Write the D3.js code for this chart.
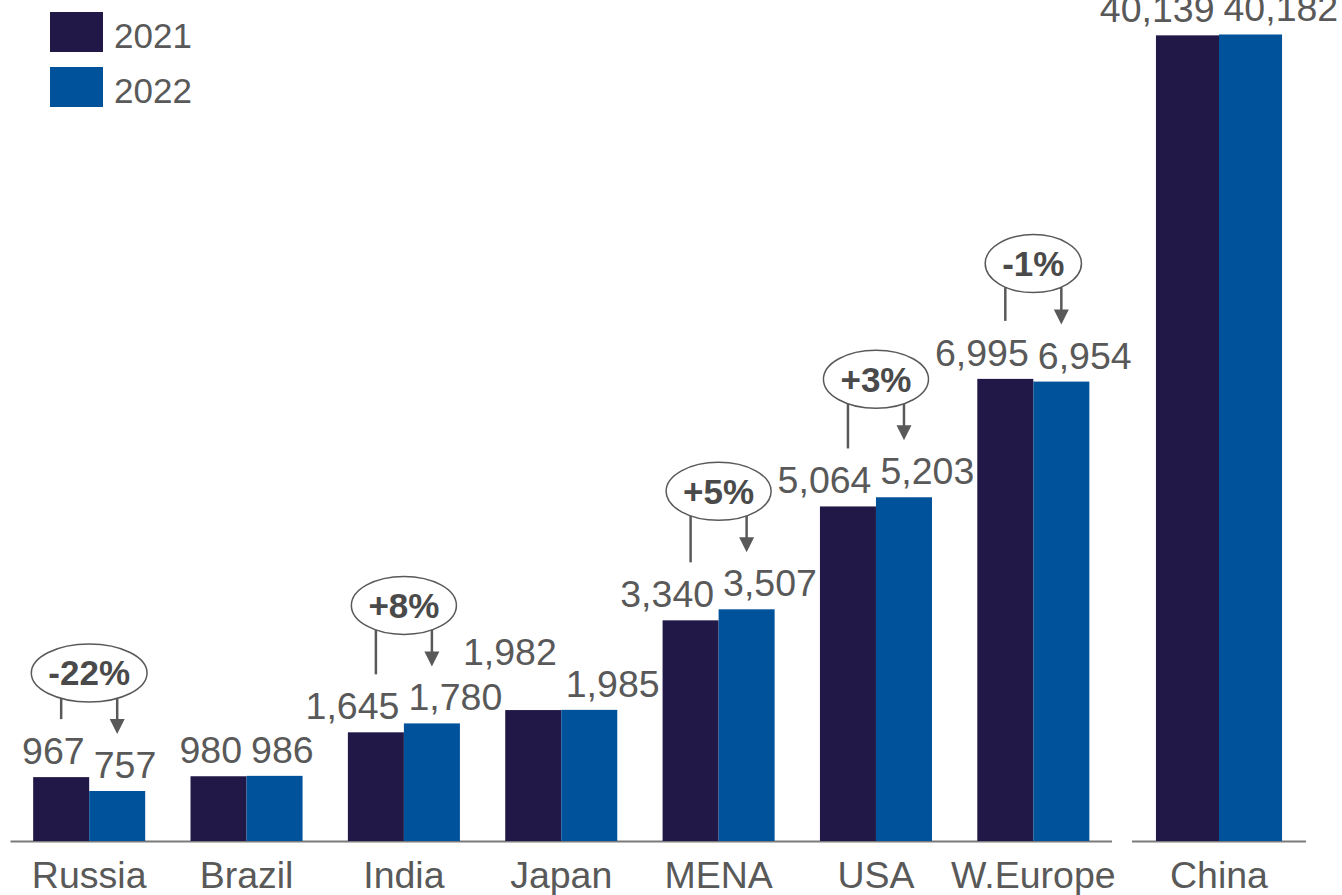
<!DOCTYPE html>
<html>
<head>
<meta charset="utf-8">
<script src="https://cdn.jsdelivr.net/npm/d3@7"></script>
<style>
  html, body { margin: 0; padding: 0; background: #ffffff; }
  svg { display: block; font-family: 'Liberation Sans', Arial, sans-serif; }
</style>
</head>
<body>
<div id="chart"></div>
<script>
// regions on the main (left) scale, China on its own broken scale
const regions = ['Russia', 'Brazil', 'India', 'Japan', 'MENA', 'USA', 'W.Europe'];
const values2021 = [967, 980, 1645, 1982, 3340, 5064, 6995];
const values2022 = [757, 986, 1780, 1985, 3507, 5203, 6954];

const chinaLabel = ['China'];
const china2021 = [40139];
const china2022 = [40182];

const years = ['2021', '2022'];
const changeRegions = ['Russia', 'India', 'MENA', 'USA', 'W.Europe'];
// the 2021 Japan label sits higher in the original to clear India's labels
const liftedLabels = ['Japan-2021'];

const drawChart = () => {
  let width = 1342;
  let height = 895;
  let baseY = 841;

  let colorScale = d3.scaleOrdinal().domain(years).range(['#211848', '#00529b']);
  let textColor = '#595959';
  let fmt = d3.format(',');

  let svg = d3
    .select('#chart')
    .append('svg')
    .attr('width', width)
    .attr('height', height);

  // x scales
  let xMain = d3.scaleBand().domain(regions).range([10.5, 1112]).paddingInner(0.288).paddingOuter(0.144);
  let xChina = d3.scaleBand().domain(chinaLabel).range([1132, 1306]).paddingInner(0).paddingOuter(0.19);

  // y scales (China drawn on a compressed scale)
  let yMain = d3.scaleLinear().domain([0, 12730]).range([baseY, 0]);
  let yChina = d3.scaleLinear().domain([0, 41900]).range([baseY, 0]);

  let rows = regions.map((r, i) => ({
    region: r,
    x: xMain,
    y: yMain,
    vals: [values2021[i], values2022[i]],
  }));
  rows.push({ region: chinaLabel[0], x: xChina, y: yChina, vals: [china2021[0], china2022[0]] });

  // axis lines
  [xMain, xChina].forEach((sc) => {
    svg
      .append('line')
      .attr('x1', sc.range()[0])
      .attr('x2', sc.range()[1])
      .attr('y1', baseY + 0.5)
      .attr('y2', baseY + 0.5)
      .attr('stroke', '#7a7a7a')
      .attr('stroke-width', 2);
  });

  let groups = svg
    .selectAll('.group')
    .data(rows)
    .enter()
    .append('g')
    .attr('class', 'group');

  // bars
  groups.each(function (d) {
    let g = d3.select(this);
    let sub = d3.scaleBand().domain(years).range([0, d.x.bandwidth()]);
    let x0 = d.x(d.region);
    d.bars = years.map((yr, j) => ({
      year: yr,
      value: d.vals[j],
      x: x0 + sub(yr),
      w: sub.bandwidth(),
      top: d.y(d.vals[j]),
    }));
    d.center = x0 + d.x.bandwidth() / 2;

    g.selectAll('rect')
      .data(d.bars)
      .enter()
      .append('rect')
      .attr('x', (b) => b.x)
      .attr('y', (b) => b.top)
      .attr('width', (b) => b.w)
      .attr('height', (b) => baseY - b.top)
      .attr('fill', (b) => colorScale(b.year));

    // value labels, centred on bars, pushed apart if they collide
    let labels = g
      .selectAll('.val')
      .data(d.bars)
      .enter()
      .append('text')
      .attr('class', 'val')
      .text((b) => fmt(b.value))
      .attr('font-size', 37.5)
      .attr('fill', textColor)
      .attr('text-anchor', 'middle')
      .attr('x', (b) => b.x + b.w / 2)
      .attr('y', (b) => b.top - 13 - (liftedLabels.includes(d.region + '-' + b.year) ? 32 : 0));

    let nodes = labels.nodes();
    let w0 = nodes[0].getComputedTextLength();
    let w1 = nodes[1].getComputedTextLength();
    let gap = 9;
    let overlap = (d.bars[0].x + d.bars[0].w / 2 + w0 / 2) - (d.bars[1].x + d.bars[1].w / 2 - w1 / 2) + gap;
    if (overlap > 0) {
      d3.select(nodes[0]).attr('text-anchor', 'end').attr('x', d.center - gap / 2);
      d3.select(nodes[1]).attr('text-anchor', 'start').attr('x', d.center + gap / 2);
    }
  });

  // category labels
  groups
    .append('text')
    .text((d) => d.region)
    .attr('x', (d) => d.center)
    .attr('y', 888)
    .attr('text-anchor', 'middle')
    .attr('font-size', 37.5)
    .attr('fill', textColor);

  // change callouts (ellipse + connector + arrow)
  let ry = 29;
  groups
    .filter((d) => changeRegions.includes(d.region))
    .each(function (d) {
      let g = d3.select(this);
      let b0 = d.bars[0];
      let b1 = d.bars[1];
      let pct = Math.round(((b1.value - b0.value) / b0.value) * 100);
      let label = (pct > 0 ? '+' : '') + pct + '%';

      let bottom = b1.top - 89;
      let cy = bottom - ry;
      let cx = d.center;

      let txt = g
        .append('text')
        .text(label)
        .attr('x', cx)
        .attr('y', cy + 12.5)
        .attr('text-anchor', 'middle')
        .attr('font-size', 35)
        .attr('font-weight', 'bold')
        .attr('fill', '#4a4a4a');
      let rx = txt.node().getComputedTextLength() / 2 + 17;

      g.insert('ellipse', 'text.val')
        .attr('cx', cx)
        .attr('cy', cy)
        .attr('rx', rx)
        .attr('ry', ry)
        .attr('fill', 'none')
        .attr('stroke', '#595959')
        .attr('stroke-width', 1.5);

      let edgeY = (px) => cy + ry * Math.sqrt(Math.max(0, 1 - Math.pow((px - cx) / rx, 2)));

      // plain connector from the 2021 bar
      let lx = b0.x + b0.w / 2;
      g.append('line')
        .attr('x1', lx)
        .attr('x2', lx)
        .attr('y1', edgeY(lx))
        .attr('y2', b0.top - 58)
        .attr('stroke', '#595959')
        .attr('stroke-width', 2.5);

      // arrow down to the 2022 bar
      let ax = b1.x + b1.w / 2;
      let tip = b1.top - 57;
      g.append('line')
        .attr('x1', ax)
        .attr('x2', ax)
        .attr('y1', edgeY(ax))
        .attr('y2', tip - 12)
        .attr('stroke', '#595959')
        .attr('stroke-width', 2.5);
      g.append('path')
        .attr('d', `M${ax - 7.5},${tip - 15}L${ax + 7.5},${tip - 15}L${ax},${tip}Z`)
        .attr('fill', '#595959');
    });

  // legend
  let legend = svg.append('g').attr('class', 'legend').attr('transform', 'translate(50, 12)');
  legend
    .selectAll('.legend-item')
    .data(years)
    .enter()
    .append('g')
    .attr('class', 'legend-item')
    .attr('transform', (d, i) => `translate(0, ${i * 55})`)
    .each(function (d) {
      let item = d3.select(this);
      item.append('rect').attr('width', 53).attr('height', 40).attr('fill', colorScale(d));
      item
        .append('text')
        .attr('x', 64)
        .attr('y', 36)
        .text(d)
        .attr('font-size', 35)
        .attr('fill', textColor);
    });
};

drawChart();
</script>
</body>
</html>
